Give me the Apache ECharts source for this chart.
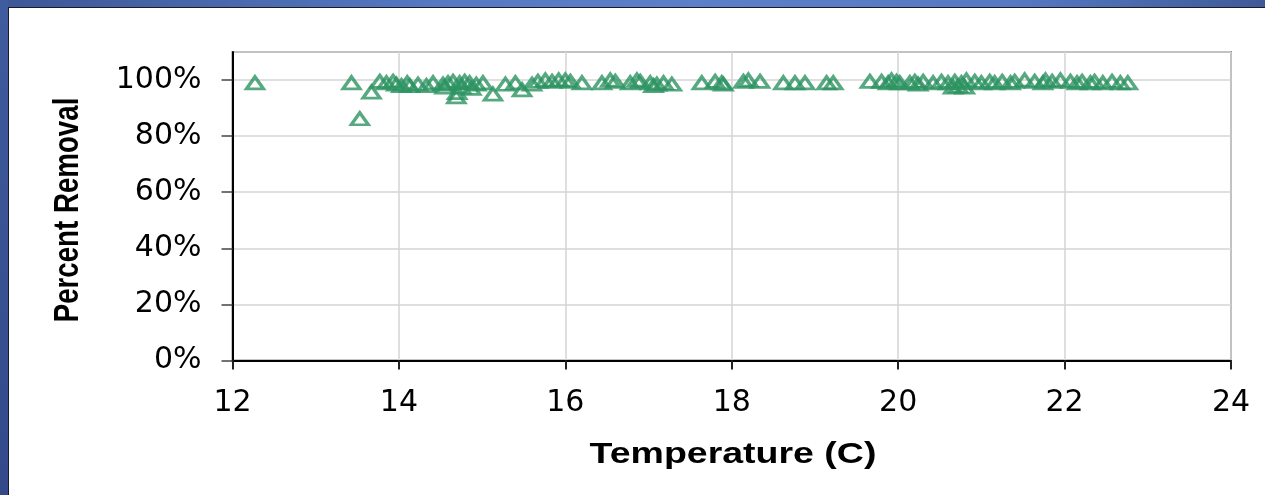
<!DOCTYPE html>
<html>
<head>
<meta charset="utf-8">
<script src="https://cdn.jsdelivr.net/npm/echarts@6/dist/echarts.min.js"></script>
<style>
  html, body { margin: 0; padding: 0; width: 1265px; height: 495px; overflow: hidden; background: #ffffff; }
  #topband { position: absolute; left: 0; top: 0; width: 1265px; height: 7px;
    background: linear-gradient(to right, #3d5797 0%, #5679c2 35%, #5c80c8 55%, #5679c2 80%, #3f5a99 100%); }
  #leftband { position: absolute; left: 0; top: 0; width: 8px; height: 495px;
    background: linear-gradient(to bottom, #3f5c9e, #33498a); }
  #inner { position: absolute; left: 8px; top: 7px; width: 1257px; height: 488px;
    border-left: 1px solid #1a1a2a; border-top: 1px solid #1a1a2a; box-sizing: border-box; background: #fff; }
  #chart { position: absolute; left: 0; top: 0; width: 1265px; height: 495px; }
</style>
</head>
<body>
<div id="topband"></div>
<div id="leftband"></div>
<div id="inner"></div>
<div id="chart"></div>
<script>
// Temperature (C) of each sample
const temperature = [
  12.27, 13.43, 13.53, 13.67,
  13.77, 13.85, 13.93, 13.97, 14.03, 14.10, 14.13, 14.23, 14.33, 14.41,
  14.53, 14.55, 14.59, 14.65, 14.69, 14.70, 14.73, 14.75, 14.79, 14.85,
  14.87, 14.93, 15.01, 15.13, 15.28, 15.40, 15.48,
  15.60, 15.67, 15.76, 15.84, 15.92, 16.00, 16.06, 16.20,
  16.44, 16.54, 16.60, 16.78, 16.86, 16.90, 17.02, 17.06, 17.10, 17.18, 17.28,
  17.64, 17.80, 17.88, 17.90, 18.14, 18.20, 18.34, 18.62, 18.76, 18.88, 19.14, 19.22,
  19.66, 19.80, 19.88, 19.92, 19.98, 20.02, 20.14, 20.20, 20.24, 20.30, 20.42, 20.52,
  20.60, 20.66, 20.68, 20.72, 20.76, 20.80, 20.82, 20.92, 21.00, 21.10, 21.16, 21.25,
  21.35, 21.40, 21.52, 21.64, 21.74, 21.77, 21.85, 21.95, 22.07, 22.15, 22.21,
  22.31, 22.36, 22.46, 22.57, 22.67, 22.76
];
// Percent removal (fraction) of each sample
const removal = [
  0.990, 0.990, 0.862, 0.957,
  0.995, 0.990, 0.995, 0.985, 0.980, 0.990, 0.980, 0.985, 0.980, 0.990,
  0.985, 0.975, 0.990, 0.995, 0.940, 0.955, 0.990, 0.975, 0.995, 0.990,
  0.970, 0.985, 0.990, 0.950, 0.985, 0.990, 0.965,
  0.985, 0.995, 1.000, 0.995, 1.000, 1.000, 0.995, 0.990,
  0.990, 1.000, 0.995, 0.990, 1.000, 0.995, 0.990, 0.980, 0.985, 0.990, 0.985,
  0.990, 0.995, 0.990, 0.985, 0.995, 1.000, 0.995, 0.990, 0.990, 0.990, 0.990, 0.990,
  0.995, 0.995, 0.990, 1.000, 0.995, 0.990, 0.990, 0.995, 0.985, 0.995, 0.990, 0.995,
  0.990, 0.975, 0.995, 0.978, 0.990, 0.975, 1.000, 0.995, 0.990, 0.995, 0.990, 0.995,
  0.990, 0.995, 1.000, 0.995, 0.990, 1.000, 0.995, 1.000, 0.995, 0.990, 0.995,
  0.990, 0.995, 0.990, 0.995, 0.990, 0.990
];
const xTicks = { min: 12, max: 24, interval: 2 };
const yTicks = { min: 0, max: 1.1, interval: 0.2 };
const xTitle = 'Temperature (C)';
const yTitle = 'Percent Removal';

const points = temperature.map((t, i) => [t, removal[i]]);

const chart = echarts.init(document.getElementById('chart'), null, { renderer: 'canvas' });
const labelFont = { fontFamily: 'DejaVu Sans', fontSize: 30, color: '#000' };
chart.setOption({
  animation: false,
  backgroundColor: 'transparent',
  grid: {
    left: 232.5, right: 34, top: 52, bottom: 134.5,
    show: true, borderColor: '#8c8c8c', borderWidth: 2, backgroundColor: 'transparent'
  },
  xAxis: {
    type: 'value', min: xTicks.min, max: xTicks.max, interval: xTicks.interval,
    axisLine: { show: true, onZero: false, lineStyle: { color: '#000', width: 2 } },
    axisTick: { show: true, inside: false, length: 9, lineStyle: { color: '#222', width: 2 } },
    splitLine: { show: true, lineStyle: { color: '#d4d4d4', width: 1.5 } },
    axisLabel: Object.assign({ margin: 28 }, labelFont)
  },
  yAxis: {
    type: 'value', min: yTicks.min, max: yTicks.max, interval: yTicks.interval,
    axisLine: { show: true, lineStyle: { color: '#000', width: 2 } },
    axisTick: { show: true, inside: false, length: 11, lineStyle: { color: '#444', width: 1.5 } },
    splitLine: { show: true, lineStyle: { color: '#d4d4d4', width: 1.5 } },
    axisLabel: Object.assign({
      margin: 31, showMaxLabel: false,
      formatter: v => Math.round(v * 100) + '%'
    }, labelFont)
  },
  graphic: [
    {
      type: 'text', x: 733, y: 455, z: 10, scaleX: 1.25,
      style: {
        text: xTitle, font: 'bold 30px "Liberation Sans", Arial, sans-serif', fill: '#000',
        textAlign: 'center', textVerticalAlign: 'middle'
      }
    },
    {
      type: 'text', x: 68, y: 210, rotation: Math.PI / 2, scaleY: 1.25, z: 10,
      style: {
        text: yTitle, font: 'bold 27.7px "Liberation Sans", Arial, sans-serif', fill: '#000',
        textAlign: 'center', textVerticalAlign: 'middle'
      }
    }
  ],
  series: [{
    type: 'scatter',
    data: points,
    symbol: 'triangle',
    symbolSize: [17, 12],
    itemStyle: { color: 'rgba(0,0,0,0)', borderColor: '#2d9461', borderWidth: 3.2 }
  }]
});
</script>
</body>
</html>
